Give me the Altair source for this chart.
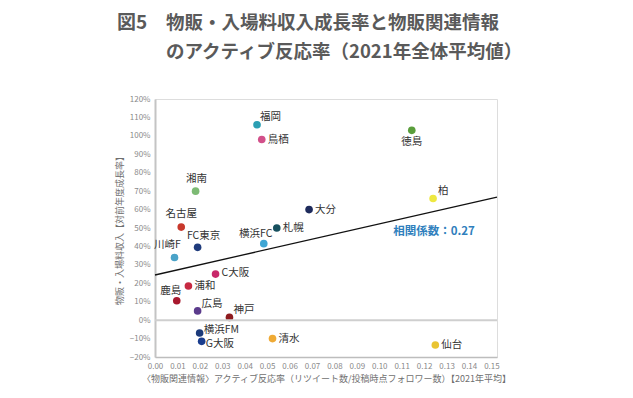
import altair as alt
import pandas as pd

# ---- data ----
clubs = ["福岡", "鳥栖", "徳島", "湘南", "柏", "大分", "名古屋", "札幌", "横浜FC", "FC東京",
         "川崎F", "C大阪", "浦和", "鹿島", "広島", "神戸", "横浜FM", "G大阪", "清水", "仙台"]
active_rate = [0.0455, 0.0476, 0.1145, 0.0181, 0.124, 0.0687, 0.0117, 0.0543, 0.0485, 0.0190,
               0.0087, 0.0270, 0.0149, 0.0097, 0.0190, 0.0332, 0.0199, 0.0208, 0.0524, 0.125]
growth = [1.06, 0.98, 1.03, 0.70, 0.66, 0.60, 0.505, 0.50, 0.415, 0.395,
          0.34, 0.25, 0.185, 0.105, 0.05, 0.015, -0.07, -0.115, -0.10, -0.135]
club_colors = ["#2b9fb3", "#d2508a", "#5a9e3c", "#7dba74", "#eee840", "#1e2b5c", "#c8382c",
               "#17505e", "#3fa6d4", "#1f3b7c", "#4aa3c8", "#c8286a", "#c72a42", "#a8192e",
               "#5b3b8c", "#8e1b1e", "#1b3a7a", "#1a3d8e", "#efaa35", "#e9c432"]

trend_x = [0.0, 0.1525]
trend_y = [0.245, 0.668]

x_ticks = [0.00, 0.01, 0.02, 0.03, 0.04, 0.05, 0.06, 0.07, 0.08,
           0.09, 0.10, 0.11, 0.12, 0.13, 0.14, 0.15]
y_ticks = [-0.2, -0.1, 0.0, 0.1, 0.2, 0.3, 0.4, 0.5, 0.6, 0.7, 0.8, 0.9, 1.0, 1.1, 1.2]

corr_label = "相関係数：0.27"
corr_pos = (0.1244, 0.478)

# label placement (layout only): align, dx, dy in pixels
label_layout = {
    "福岡": ("left", 3, -8), "鳥栖": ("left", 6, 0), "徳島": ("center", 0, 12),
    "湘南": ("center", 1, -12), "柏": ("left", 5, -8), "大分": ("left", 6, 0),
    "名古屋": ("center", 0, -13), "札幌": ("left", 6, 0), "横浜FC": ("center", -8, -10),
    "FC東京": ("center", 6, -11), "川崎F": ("center", -7, -12), "C大阪": ("left", 6, -1),
    "浦和": ("left", 6, 0), "鹿島": ("center", -6, -10), "広島": ("left", 4, -7),
    "神戸": ("left", 4, -7), "横浜FM": ("left", 4, -3), "G大阪": ("left", 4, 3),
    "清水": ("left", 6, 0), "仙台": ("left", 6, 0),
}

FONT = "Noto Sans CJK JP"

df = pd.DataFrame({"club": clubs, "rate": active_rate, "growth": growth})
df["al"] = [label_layout[c][0] for c in clubs]
df["ox"] = [label_layout[c][1] for c in clubs]
df["oy"] = [label_layout[c][2] for c in clubs]

x_scale = alt.Scale(domain=[0, 0.1525], nice=False, zero=False)
y_scale = alt.Scale(domain=[-0.2, 1.2], nice=False, zero=False)

x_axis = alt.Axis(
    values=x_ticks, format=".2f", grid=False, ticks=False, domainColor="#bdbdbd",
    domainWidth=1.5, labelColor="#8a8a8a", labelFontSize=8, labelPadding=5, labelFont=FONT,
    labelOverlap=False, labelFlush=False,
    title="〈物販関連情報〉アクティブ反応率（リツイート数/投稿時点フォロワー数）【2021年平均】",
    titleFont=FONT, titleFontSize=9, titleFontWeight="normal", titleColor="#6f6f6f",
    titlePadding=4)
y_axis = alt.Axis(
    values=y_ticks, format=".0%", grid=False, ticks=False, domainColor="#c4c4c4",
    domainWidth=2, labelColor="#8a8a8a", labelFontSize=8, labelPadding=5, labelFont=FONT,
    labelOverlap=False, labelFlush=False,
    title="物販・入場料収入【対前年度成長率】", titleFont=FONT, titleFontSize=9,
    titleFontWeight="normal", titleColor="#6f6f6f", titlePadding=5)

x_enc = alt.X("rate:Q", scale=x_scale, axis=x_axis)
y_enc = alt.Y("growth:Q", scale=y_scale, axis=y_axis)

base = alt.Chart(df)

points = base.mark_circle(size=58, opacity=1).encode(
    x=x_enc, y=y_enc,
    color=alt.Color("club:N", scale=alt.Scale(domain=clubs, range=club_colors), legend=None))

zero = alt.Chart(pd.DataFrame({"growth": [0.0]})).mark_rule(
    color="#cfcfcf", strokeWidth=2).encode(y=y_enc, x=alt.value(0), x2=alt.value(342))

trend = alt.Chart(pd.DataFrame({"rate": trend_x, "growth": trend_y})).mark_line(
    color="#111111", strokeWidth=1.3).encode(x=x_enc, y=y_enc)

labels = base.mark_text(
    align=alt.ExprRef("datum.al"), dx=alt.ExprRef("datum.ox"), dy=alt.ExprRef("datum.oy"),
    baseline="middle", font=FONT, fontSize=10.5, color="#333333").encode(
    x=x_enc, y=y_enc, text="club:N")

corr = alt.Chart(pd.DataFrame({"rate": [corr_pos[0]], "growth": [corr_pos[1]],
                               "t": [corr_label]})).mark_text(
    font=FONT, fontSize=11.5, fontWeight="bold", color="#2f7fbd", align="center",
    baseline="middle").encode(x=x_enc, y=y_enc, text="t:N")

title_df = pd.DataFrame({"a": [0]})
t_fig = alt.Chart(title_df).mark_text(text="図5", font=FONT, fontSize=19, fontWeight="bold",
                                      color="#5a5a5a", align="left", baseline="middle").encode(
    x=alt.value(-38), y=alt.value(-76))
t_l1 = alt.Chart(title_df).mark_text(text="物販・入場料収入成長率と物販関連情報", font=FONT,
                                     fontSize=18.5, fontWeight="bold", color="#5a5a5a",
                                     align="left", baseline="middle").encode(
    x=alt.value(11), y=alt.value(-76))
t_l2 = alt.Chart(title_df).mark_text(text="のアクティブ反応率（2021年全体平均値）", font=FONT,
                                     fontSize=18.5, fontWeight="bold", color="#5a5a5a",
                                     align="left", baseline="middle").encode(
    x=alt.value(11), y=alt.value(-47))

chart = alt.layer(points, zero, trend, labels, corr,
                  t_fig, t_l1, t_l2).properties(
    width=342, height=258,
    autosize=alt.AutoSizeParams(type="none"),
    padding={"left": 147, "top": 91, "right": 120, "bottom": 33},
).configure_view(strokeWidth=0).configure(background="white")

chart.save("out.html", embed_options={"renderer": "svg", "actions": False})
